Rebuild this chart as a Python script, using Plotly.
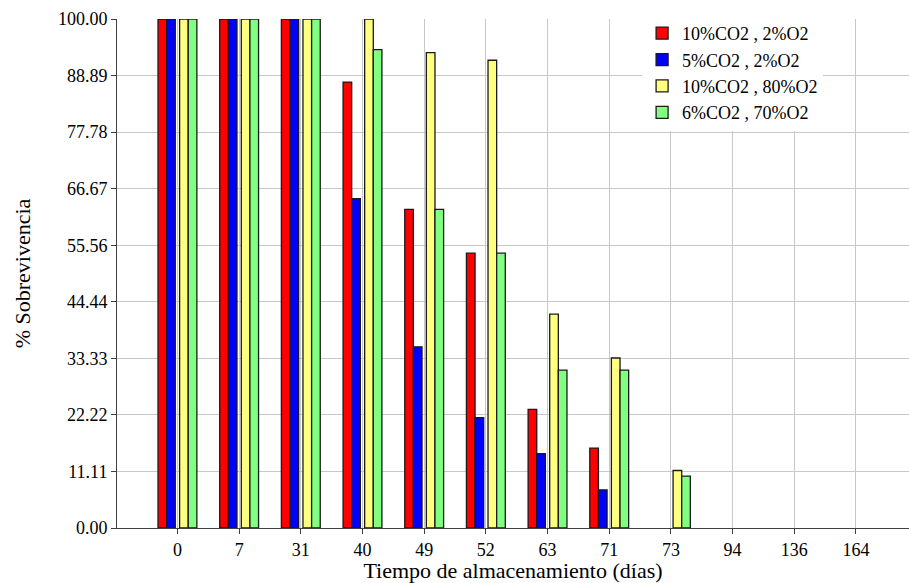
import plotly.graph_objects as go

categories = ["0", "7", "31", "40", "49", "52", "63", "71", "73", "94", "136", "164"]
series_names = ["10%CO2 , 2%O2", "5%CO2 , 2%O2", "10%CO2 , 80%O2", "6%CO2 , 70%O2"]
red_vals = [100, 100, 100, 87.6, 62.6, 54.0, 23.3, 15.7, None, None, None, None]
blue_vals = [100, 100, 100, 64.7, 35.6, 21.7, 14.6, 7.5, None, None, None, None]
yellow_vals = [100, 100, 100, 100, 93.4, 91.9, 42.0, 33.4, 11.3, None, None, None]
green_vals = [100, 100, 100, 94.0, 62.6, 54.0, 31.0, 31.0, 10.2, None, None, None]
colors = ["#FF0000", "#0000FF", "#FFFF80", "#80FF80"]
y_ticks = [100 * k / 9 for k in range(10)]
y_ticktext = ["%.2f" % v for v in y_ticks]

offsets = [-0.315, -0.175, 0.035, 0.175]
bar_w = 0.14

FONT = "Liberation Serif, Times New Roman, serif"

fig = go.Figure()
for name, vals, col, off in zip(series_names, [red_vals, blue_vals, yellow_vals, green_vals], colors, offsets):
    fig.add_trace(go.Bar(
        x=categories, y=vals, name=name,
        marker=dict(color=col, line=dict(color="#1a1a1a", width=1.3)),
        offset=off, width=bar_w,
    ))

fig.update_layout(
    width=909, height=583,
    margin=dict(l=117, r=0, t=19, b=55),
    paper_bgcolor="white", plot_bgcolor="white",
    font=dict(family=FONT, size=18, color="black"),
    barmode="overlay",
    showlegend=True,
    legend=dict(
        x=0.663, y=1.008, xanchor="left", yanchor="top",
        bgcolor="white", borderwidth=0,
        font=dict(family=FONT, size=18, color="black"),
        tracegroupgap=0,
    ),
    xaxis=dict(
        type="category",
        range=[-0.98, 11.86],
        showgrid=True, gridcolor="#C8C8C8", gridwidth=1,
        showline=True, linecolor="#404040", linewidth=1,
        ticks="outside", ticklen=5, tickcolor="#404040",
        tickfont=dict(family=FONT, size=18),
        title=dict(text="Tiempo de almacenamiento (días)", font=dict(family=FONT, size=22), standoff=3),
        zeroline=False,
    ),
    yaxis=dict(
        range=[0, 100],
        tickvals=y_ticks, ticktext=y_ticktext,
        showgrid=True, gridcolor="#C8C8C8", gridwidth=1,
        showline=True, linecolor="#404040", linewidth=1,
        ticks="outside", ticklen=5, tickcolor="#404040",
        tickfont=dict(family=FONT, size=18),
        title=dict(text="% Sobrevivencia", font=dict(family=FONT, size=22), standoff=21),
        zeroline=False,
    ),
)

fig.write_html("out.html")
